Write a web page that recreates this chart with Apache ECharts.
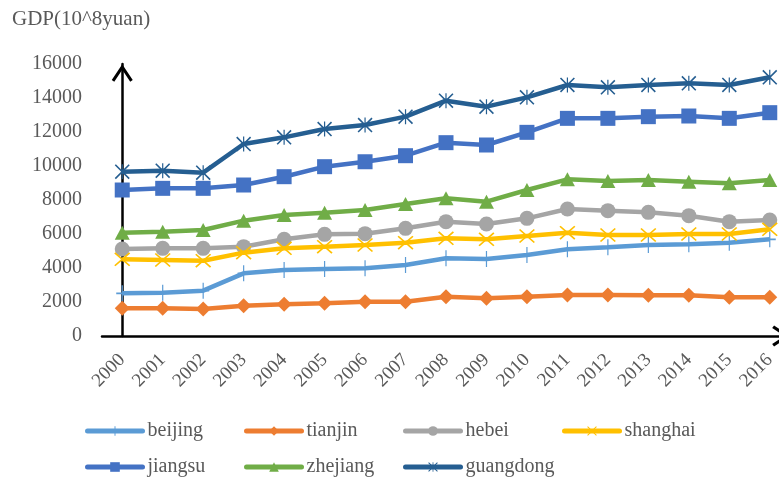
<!DOCTYPE html>
<html>
<head>
<meta charset="utf-8">
<script src="https://cdn.jsdelivr.net/npm/echarts@6/dist/echarts.min.js"></script>
<style>html,body{margin:0;padding:0;background:#fff}#c{width:779px;height:479px}</style>
</head>
<body>
<div id="c"></div>
<script>
var years = ['2000','2001','2002','2003','2004','2005','2006','2007','2008','2009','2010','2011','2012','2013','2014','2015','2016'];
var yTicks = [0,2000,4000,6000,8000,10000,12000,14000,16000];
var beijing   = [2510,2549,2667,3686,3882,3941,3980,4176,4569,4529,4765,5098,5216,5353,5392,5490,5686];
var tianjin   = [1627,1627,1588,1784,1863,1921,2020,2020,2314,2216,2314,2412,2412,2392,2392,2275,2275];
var hebei     = [5118,5157,5157,5255,5686,5980,6020,6333,6725,6588,6922,7470,7372,7275,7078,6725,6823];
var shanghai  = [4510,4471,4431,4902,5157,5255,5353,5490,5745,5686,5882,6078,5941,5941,6000,6000,6274];
var jiangsu   = [8588,8686,8686,8882,9371,9960,10250,10606,11372,11235,11980,12803,12803,12902,12941,12803,13137];
var zhejiang  = [6078,6137,6235,6784,7118,7255,7412,7765,8098,7902,8588,9216,9118,9176,9078,8980,9176];
var guangdong = [9665,9724,9606,11294,11686,12176,12411,12902,13843,13490,14039,14765,14627,14765,14863,14765,15216];

var names = ['beijing','tianjin','hebei','shanghai','jiangsu','zhejiang','guangdong'];
var colors = ['#5B9BD5','#ED7D31','#A5A5A5','#FFC000','#4472C4','#70AD47','#255E91'];
var values = [beijing,tianjin,hebei,shanghai,jiangsu,zhejiang,guangdong];

var SYM_PLUS = 'path://M9,0 H11 V20 H9 Z M0,9 H20 V11 H0 Z';
var SYM_X = 'path://M0,1.5 L1.5,0 L20,18.5 L18.5,20 Z M18.5,0 L20,1.5 L1.5,20 L0,18.5 Z';
var SYM_AST = 'path://M0,1.5 L1.5,0 L20,18.5 L18.5,20 Z M18.5,0 L20,1.5 L1.5,20 L0,18.5 Z M9.2,0 H10.8 V20 H9.2 Z';
var CHEVRON = 'path://M0,15 L10,0 L20,15 L17.6,16.8 L10,5.2 L2.4,16.8 Z';

var symbols = [SYM_PLUS,'diamond','circle',SYM_X,'rect','triangle',SYM_AST];
var symSizes = [[12,16],[15,15],[15,15],[16,14],[15,15],[15,14],[15,15]];

var font = 'Liberation Serif';
var txt = '#595959';

var series = names.map(function(n,i){
  return {
    name: n, type: 'line',
    data: values[i].map(function(v,k){ return [k, v]; }),
    symbol: symbols[i], symbolSize: symSizes[i],
    lineStyle: {color: colors[i], width: 4.5},
    itemStyle: {color: colors[i]},
    emphasis: {disabled: true},
    z: 2 + i
  };
});

var legendPos = [[85,421],[244,421],[403,421],[562,421],[85,457],[244,457],[403,457]];
var legends = names.map(function(n,i){
  return {
    data: [n], left: legendPos[i][0], top: legendPos[i][1], padding: 0,
    itemWidth: 55, itemHeight: 12, itemGap: 0,
    lineStyle: {width: 5, cap: 'round'},
    textStyle: {fontFamily: font, fontSize: 20, color: txt},
    selectedMode: false
  };
});

var chart = echarts.init(document.getElementById('c'), null, {renderer: 'canvas'});
chart.setOption({
  animation: false,
  title: {text: 'GDP(10^8yuan)', left: 7, top: 4, textStyle: {fontFamily: font, fontSize: 21, fontWeight: 'normal', color: txt}},
  legend: legends,
  grid: {left: 102, top: 64, width: 688, height: 272, containLabel: false, outerBoundsMode: 'none'},
  xAxis: {
    type: 'value', min: -0.5, max: 16.5,
    axisLine: {show: true, lineStyle: {color: '#000', width: 2.5}, symbol: ['none', CHEVRON], symbolSize: [21, 18], symbolOffset: [0, -9]},
    axisTick: {show: false},
    splitLine: {show: false},
    axisLabel: {
      customValues: years.map(function(y,i){ return i; }),
      formatter: function(v){ return years[Math.round(v)]; },
      rotate: 45, margin: 21, fontFamily: font, fontSize: 19, color: txt
    }
  },
  yAxis: {
    type: 'value', min: yTicks[0], max: yTicks[yTicks.length-1], interval: 2000,
    axisLine: {show: true, lineStyle: {color: '#000', width: 2.5}, symbol: ['none', CHEVRON], symbolSize: [21, 18], symbolOffset: [0, -9]},
    axisTick: {show: false},
    splitLine: {show: false},
    axisLabel: {margin: 20, fontFamily: font, fontSize: 20, color: txt, formatter: function(v){ return String(v); }}
  },
  series: series
});
</script>
</body>
</html>
